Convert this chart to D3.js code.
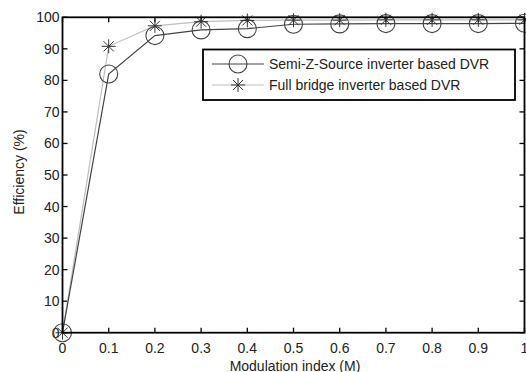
<!DOCTYPE html>
<html>
<head>
<meta charset="utf-8">
<script src="https://cdn.jsdelivr.net/npm/d3@7"></script>
<style>
  html,body{margin:0;padding:0;background:#fff;}
  svg{display:block;font-family:"Liberation Sans",Arial,sans-serif;}
</style>
</head>
<body>
<svg id="chart" width="526" height="372"></svg>
<script>
/* ── data ── */
var modIndex=[0,0.1,0.2,0.3,0.4,0.5,0.6,0.7,0.8,0.9,1];
var semiZ=[0,82,94.2,96,96.4,97.8,97.9,98,98,98,98.1];
var fullBridge=[0,90.8,97.3,98.6,99,99.1,99.1,99.2,99.2,99.2,99.2];
var xTicks=[0,0.1,0.2,0.3,0.4,0.5,0.6,0.7,0.8,0.9,1];
var yTicks=[0,10,20,30,40,50,60,70,80,90,100];
var seriesNames=['Semi-Z-Source inverter based DVR','Full bridge inverter based DVR'];

var svg=d3.select('#chart');
var X0=62.5, X1=524.5, Y0=332.7, Y1=17.3;
var x=d3.scaleLinear().domain([0,1]).range([X0,X1]);
var y=d3.scaleLinear().domain([0,100]).range([Y0,Y1]);

/* ── axes (MATLAB style, ticks inside) ── */
var TL=5;
var fmtX=function(d){return d===0?'0':d===1?'1':d3.format('.1f')(d);};
var ax=svg.append('g');
xTicks.forEach(function(t){
  ax.append('line').attr('x1',x(t)).attr('x2',x(t)).attr('y1',Y0).attr('y2',Y0-TL).attr('stroke','#000').attr('stroke-width',1.3);
  ax.append('line').attr('x1',x(t)).attr('x2',x(t)).attr('y1',Y1).attr('y2',Y1+TL).attr('stroke','#000').attr('stroke-width',1.3);
  ax.append('text').attr('x',x(t)).attr('y',Y0+20).attr('text-anchor','middle')
    .attr('font-size','14').attr('fill','#222').text(fmtX(t));
});
yTicks.forEach(function(t){
  ax.append('line').attr('x1',X0).attr('x2',X0+TL).attr('y1',y(t)).attr('y2',y(t)).attr('stroke','#000').attr('stroke-width',1.3);
  ax.append('line').attr('x1',X1).attr('x2',X1-TL).attr('y1',y(t)).attr('y2',y(t)).attr('stroke','#000').attr('stroke-width',1.3);
  ax.append('text').attr('x',X0-3).attr('y',y(t)+5).attr('text-anchor','end')
    .attr('font-size','14').attr('fill','#222').text(t);
});

ax.append('text').attr('x',295).attr('y',370.5).attr('text-anchor','middle')
  .attr('font-size','14').attr('fill','#222').text('Modulation index (M)');
ax.append('text').attr('transform','translate(24,172) rotate(-90)')
  .attr('text-anchor','middle').attr('font-size','14').attr('fill','#222').text('Efficiency (%)');

/* ── lines ── */
var line=d3.line().x(function(d){return x(d[0]);}).y(function(d){return y(d[1]);});
var fbPts=modIndex.map(function(m,i){return [m,fullBridge[i]];});
var szPts=modIndex.map(function(m,i){return [m,semiZ[i]];});

svg.append('path').attr('d',line(fbPts)).attr('fill','none').attr('stroke','#bdbdbd').attr('stroke-width',1.2);
svg.append('path').attr('d',line(szPts)).attr('fill','none').attr('stroke','#444').attr('stroke-width',1.2);

function star(g,cx,cy,r){
  var d=r*0.72;
  g.append('path')
    .attr('d','M'+(cx-r)+','+cy+'H'+(cx+r)+'M'+cx+','+(cy-r)+'V'+(cy+r)+
      'M'+(cx-d)+','+(cy-d)+'L'+(cx+d)+','+(cy+d)+'M'+(cx-d)+','+(cy+d)+'L'+(cx+d)+','+(cy-d))
    .attr('stroke','#333').attr('stroke-width',1).attr('fill','none');
}
var mk=svg.append('g');
szPts.forEach(function(p){
  mk.append('circle').attr('cx',x(p[0])).attr('cy',y(p[1])).attr('r',9)
    .attr('fill','none').attr('stroke','#444').attr('stroke-width',1.1);
});
fbPts.forEach(function(p){ star(mk,x(p[0]),y(p[1]),7); });

/* ── box ── */
svg.append('rect').attr('x',X0).attr('y',Y1).attr('width',X1-X0).attr('height',Y0-Y1)
  .attr('fill','none').attr('stroke','#000').attr('stroke-width',1.8);

/* ── legend ── */
var lg=svg.append('g');
lg.append('rect').attr('x',203).attr('y',49.5).attr('width',312).attr('height',50.5)
  .attr('fill','#fff').attr('stroke','#000').attr('stroke-width',1.8);
lg.append('line').attr('x1',212).attr('x2',264).attr('y1',64).attr('y2',64).attr('stroke','#444').attr('stroke-width',1.2);
lg.append('circle').attr('cx',238).attr('cy',64).attr('r',9).attr('fill','none').attr('stroke','#444').attr('stroke-width',1.1);
lg.append('line').attr('x1',212).attr('x2',264).attr('y1',85).attr('y2',85).attr('stroke','#bdbdbd').attr('stroke-width',1.2);
star(lg,238,85,7);
lg.append('text').attr('x',269).attr('y',69).attr('font-size','14').attr('fill','#222').text(seriesNames[0]);
lg.append('text').attr('x',269).attr('y',90).attr('font-size','14').attr('fill','#222').text(seriesNames[1]);
</script>
</body>
</html>
